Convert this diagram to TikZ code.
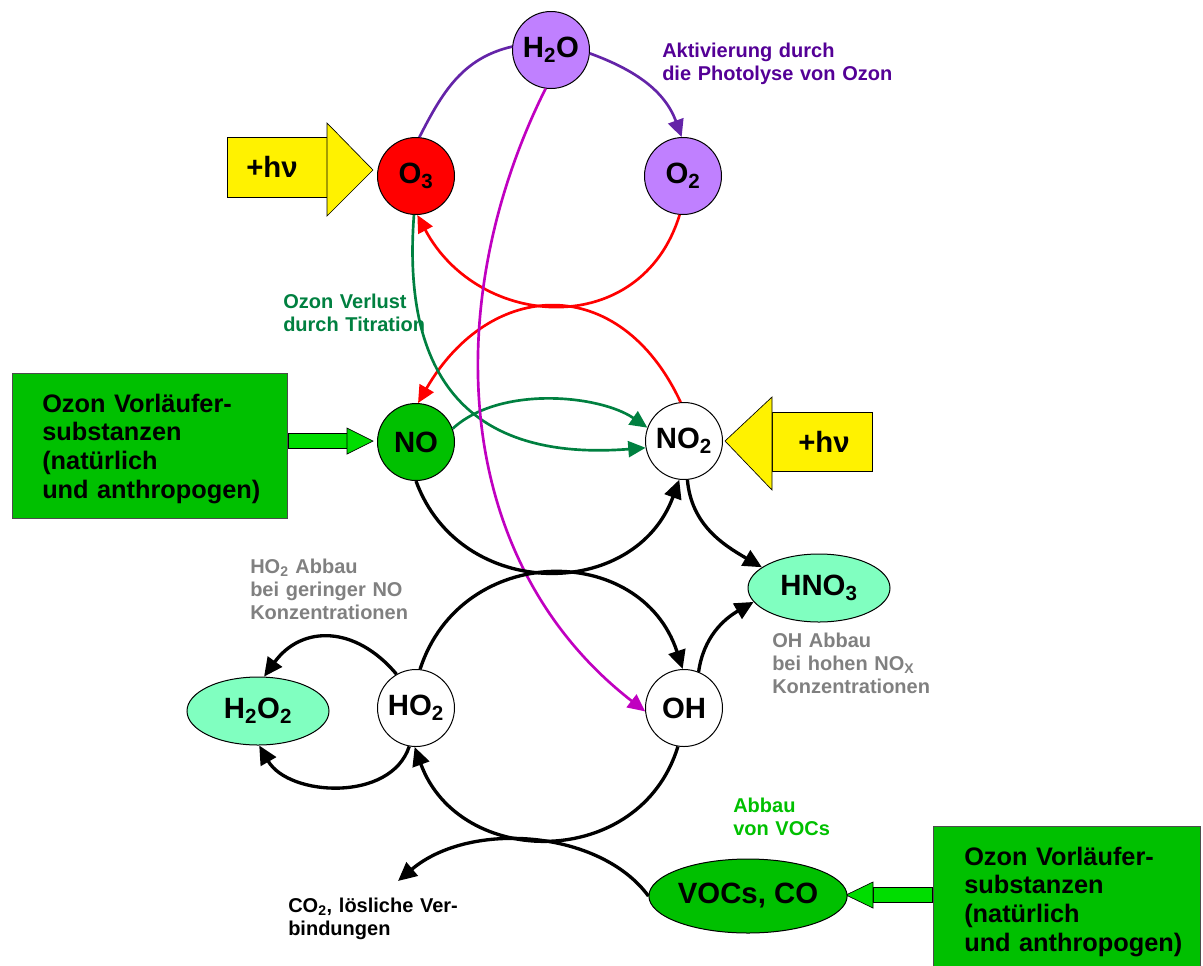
\documentclass[tikz,border=0pt]{standalone}
\usepackage{fontspec}
\setmainfont{Liberation Sans}
\usetikzlibrary{arrows.meta,shapes.geometric}

\definecolor{lav}{RGB}{192,128,255}
\definecolor{aqua}{RGB}{128,255,192}
\definecolor{leaf}{RGB}{0,192,0}
\definecolor{lightleaf}{RGB}{0,221,0}
\definecolor{actline}{RGB}{100,36,168}
\definecolor{acttext}{RGB}{84,0,150}
\definecolor{titgreen}{RGB}{0,128,64}
\definecolor{photomag}{RGB}{192,0,192}

\begin{document}
\begin{tikzpicture}[x=0.75pt, y=0.75pt,
  >={Triangle[length=13pt,width=12pt]},
  species/.style={circle, draw, line width=0.75pt, minimum size=57.75pt, inner sep=0pt,
    font=\fontsize{22}{26}\selectfont\bfseries},
  sink/.style={ellipse, draw, line width=0.75pt, fill=aqua, minimum width=106.5pt,
    minimum height=51pt, inner sep=0pt, font=\fontsize{22}{26}\selectfont\bfseries},
  note/.style={anchor=base west, text width=200pt, align=left, inner sep=0pt,
    font=\fontsize{15}{17.25}\selectfont\bfseries},
  srctext/.style={anchor=base west, text width=220pt, align=left, inner sep=0pt,
    font=\fontsize{19}{21.5}\selectfont\bfseries},
  hvtext/.style={anchor=base west, inner sep=0pt, font=\fontsize{22}{26}\selectfont\bfseries},
  flow/.style={line width=2pt},
  react/.style={line width=2.5pt, -{Triangle[length=14pt,width=13pt]}}]
\useasboundingbox (0,0) rectangle (1203,-965);

% Quellen (Kaesten und Pfeile)
\filldraw[fill=leaf, draw=black!70, line width=0.75pt] (12,-373) rectangle (287,-518);
\filldraw[fill=leaf, draw=black!70, line width=0.75pt] (933,-826) rectangle (1200,-975);
\filldraw[fill=lightleaf, line width=0.5pt] (288,-433) rectangle (347,-448);
\filldraw[fill=lightleaf, line width=0.5pt] (347,-428) -- (373,-441) -- (347,-454) -- cycle;
\filldraw[fill=lightleaf, line width=0.5pt] (873,-887) rectangle (932,-902);
\filldraw[fill=lightleaf, line width=0.5pt] (873,-882) -- (846,-895) -- (873,-908) -- cycle;
\node[srctext] (srcleft) at (42,-412) {Ozon Vorläufer-\\substanzen\\(natürlich\\und anthropogen)};
\node[srctext] (srcright) at (964,-865) {Ozon Vorläufer-\\substanzen\\(natürlich\\und anthropogen)};

% Licht
\filldraw[fill=yellow, line width=0.5pt] (227,-137) rectangle (327,-197);
\filldraw[fill=yellow, line width=0.5pt] (327,-123) -- (373,-170) -- (327,-216) -- cycle;
\filldraw[fill=yellow, line width=0.5pt] (772,-412) rectangle (872,-471);
\filldraw[fill=yellow, line width=0.5pt] (772,-397) -- (725,-441) -- (772,-490) -- cycle;
\node[hvtext] (hvleft) at (246,-177) {+hν};
\node[hvtext] (hvright) at (798,-452) {+hν};

% Spezies
\node[species, fill=lav] (h2o) at (551,-50) {H\textsubscript{2}O};
\node[species, fill=red] (o3) at (416,-176) {O\textsubscript{3}};
\node[species, fill=lav] (o2) at (683,-176) {O\textsubscript{2}};
\node[species, fill=leaf] (no) at (416,-442) {NO};
\node[species, fill=white] (no2) at (684,-441) {NO\textsubscript{2}};
\node[species, fill=white] (ho2) at (416,-708) {HO\textsubscript{2}};
\node[species, fill=white] (oh) at (684,-708) {OH};
\node[sink] (hno3) at (819,-588) {HNO\textsubscript{3}};
\node[sink] (h2o2) at (258,-711) {H\textsubscript{2}O\textsubscript{2}};
\node[sink, fill=leaf, minimum width=144pt, minimum height=55.5pt] (vocs) at (748,-896) {VOCs, CO};
\coordinate (co2tip) at (398,-881);

% Beschriftungen
\node[note, acttext] (actnote) at (662,-57) {Aktivierung durch\\die Photolyse von Ozon};
\node[note, titgreen] (titnote) at (283,-308) {Ozon Verlust\\durch Titration};
\node[note, gray] (ho2note) at (250,-573) {HO\textsubscript{2} Abbau\\bei geringer NO\\Konzentrationen};
\node[note, gray] (ohnote) at (772,-647) {OH Abbau\\bei hohen NO\textsubscript{X}\\Konzentrationen};
\node[note, leaf] (vocnote) at (733,-812) {Abbau\\von VOCs};
\node[note] (co2) at (288,-912) {CO\textsubscript{2}, lösliche Ver-\\bindungen};

% Aktivierung
\draw[flow, actline] (o3.85) to[out=63,in=193] (h2o.175);
\draw[flow, actline, ->] (h2o.-5) to[out=-20,in=110] (o2.92);
% Photolyse
\draw[flow, red, ->] (o2.-95) .. controls +(-107:131) and +(-62:131) .. (o3.-88);
\draw[flow, red, ->] (no2.95) .. controls +(115:144) and +(60:144) .. (no.87);
% Titration
\draw[flow, titgreen, ->] (o3.-93) .. controls (400,-400) and (490,-460) .. (no2.190);
\draw[flow, titgreen, ->] (no.20) .. controls (500,-385) and (600,-395) .. (no2.160);
\draw[flow, photomag, ->] (h2o.-98) .. controls (440,-300) and (450,-560) .. (oh.185);

% Reaktionen
\draw[react] (no.-90) .. controls +(-70:129) and +(-110:129) .. (no2.-97);
\draw[react] (ho2.84) .. controls +(72:134) and +(108:134) .. (oh.92);
\draw[react] (oh.-99) .. controls +(-107:130) and +(-70:130) .. (ho2.-92);
\draw[react] (no2.-85) to[out=-85,in=150] (hno3.160);
\draw[react] (oh.68) to[out=82,in=210] (hno3.192);
\draw[react] (ho2.120) .. controls +(130:64) and +(54:64) .. (h2o2.80);
\draw[react] (ho2.-100) .. controls +(-108:59) and +(-60:59) .. (h2o2.-88);
\draw[react] (vocs.180) .. controls (600,-830) and (470,-820) .. (co2tip);
\end{tikzpicture}
\end{document}
